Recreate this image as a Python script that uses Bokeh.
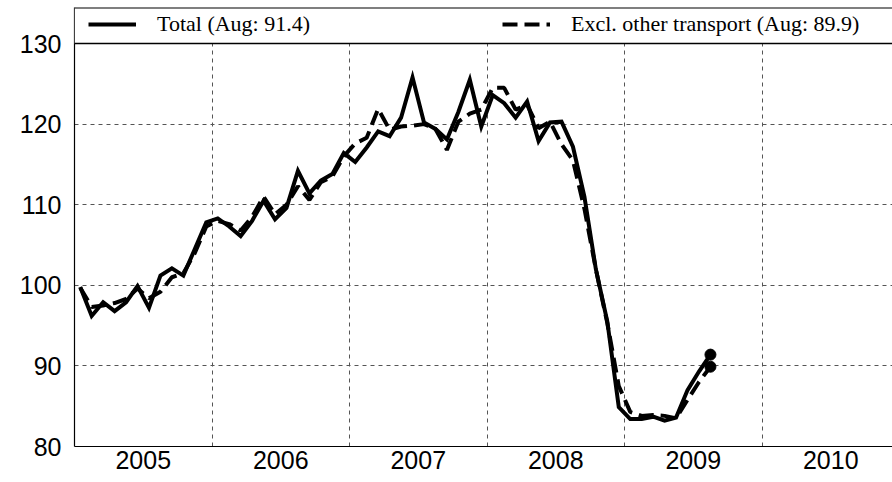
from bokeh.plotting import figure
from bokeh.models import Range1d, FixedTicker, Legend, LegendItem, BoxAnnotation, Span
from bokeh.embed import file_html
from bokeh.resources import INLINE

# Monthly index values, Jan 2005 .. Aug 2009
total = [99.8, 96.2, 97.9, 96.8, 97.9, 99.9, 97.2, 101.2, 102.1, 101.2, 104.5, 107.8,
         108.3, 107.3, 106.1, 108.0, 110.5, 108.2, 109.6, 114.2, 111.4, 113.0, 113.8, 116.4,
         115.3, 117.1, 119.1, 118.5, 120.8, 125.8, 120.2, 119.4, 118.1, 121.5, 125.5, 119.7,
         123.6, 122.6, 120.8, 122.8, 117.9, 120.2, 120.3, 117.2, 111.0, 102.0, 95.5, 84.9,
         83.4, 83.4, 83.7, 83.2, 83.6, 87.0, 89.3, 91.4]
excl = [99.7, 97.3, 97.5, 97.8, 98.3, 99.6, 98.4, 99.2, 101.0, 101.5, 104.0, 107.3,
        108.0, 107.6, 106.8, 108.5, 111.0, 108.8, 110.0, 112.3, 110.6, 112.8, 113.5, 116.0,
        117.6, 118.3, 121.9, 119.3, 119.7, 119.8, 120.0, 119.4, 116.8, 120.3, 121.3, 121.8,
        124.5, 124.5, 121.8, 122.4, 119.5, 120.3, 117.5, 115.5, 109.5, 102.0, 95.3, 87.5,
        84.3, 83.8, 83.9, 83.8, 83.5, 85.8, 88.0, 89.9]
years = [2005, 2006, 2007, 2008, 2009, 2010]
y_ticks = [80, 90, 100, 110, 120, 130]
label_total = "Total (Aug: 91.4)"
label_excl = "Excl. other transport (Aug: 89.9)"

x = [years[0] + (i + 0.5) / 12 for i in range(len(total))]

p = figure(frame_width=818, frame_height=439, output_backend="svg", toolbar_location=None,
           x_range=Range1d(2005, 2010.949), y_range=Range1d(80, 134.47),
           min_border_left=74, min_border_right=0, min_border_top=7, min_border_bottom=30)
p.outline_line_color = None
p.background_fill_color = "white"
p.border_fill_color = "white"

# grids
p.xgrid.ticker = FixedTicker(ticks=[y for y in years[1:]])
p.ygrid.ticker = FixedTicker(ticks=y_ticks)
for g in (p.xgrid, p.ygrid):
    g.grid_line_color = "#555555"
    g.grid_line_dash = "4 4"
    g.grid_line_width = 1

# axes
p.xaxis.ticker = FixedTicker(ticks=[y + 0.5 for y in years])
p.xaxis.major_label_overrides = {y + 0.5: str(y) for y in years}
p.yaxis.ticker = FixedTicker(ticks=y_ticks)
for ax in (p.xaxis, p.yaxis):
    ax.major_tick_line_color = None
    ax.minor_tick_line_color = None
    ax.major_tick_out = 0
    ax.major_tick_in = 0
    ax.axis_line_color = "black"
    ax.axis_line_width = 1.2
    ax.major_label_text_font = "Liberation Sans"
    ax.major_label_text_font_size = "25px"
    ax.major_label_text_color = "black"
p.xaxis.major_label_standoff = 4
p.yaxis.major_label_standoff = 13

# legend area at top of frame
p.add_layout(BoxAnnotation(bottom=130, fill_color="white", fill_alpha=1.0, line_color=None))
p.add_layout(Span(location=130, dimension="width", line_color="black", line_width=1.5))
p.add_layout(Span(location=134.47, dimension="width", line_color="black", line_width=2))

r_total = p.line(x, total, line_color="black", line_width=4, line_join="miter")
r_excl = p.line(x, excl, line_color="black", line_width=4, line_dash="15 7")
p.scatter([x[-1], x[-1]], [total[-1], excl[-1]], size=11, color="black")

legend = Legend(items=[LegendItem(label=label_total, renderers=[r_total]),
                       LegendItem(label=label_excl, renderers=[r_excl])],
                orientation="horizontal", location=(14, 409),
                glyph_width=48, glyph_height=20, label_height=20,
                label_standoff=21, spacing=192, padding=0, margin=0,
                border_line_color=None, background_fill_alpha=0,
                label_text_font="Liberation Serif", label_text_font_size="22px",
                label_text_color="black")
p.add_layout(legend)

open("out.html", "w").write(file_html(p, INLINE))
